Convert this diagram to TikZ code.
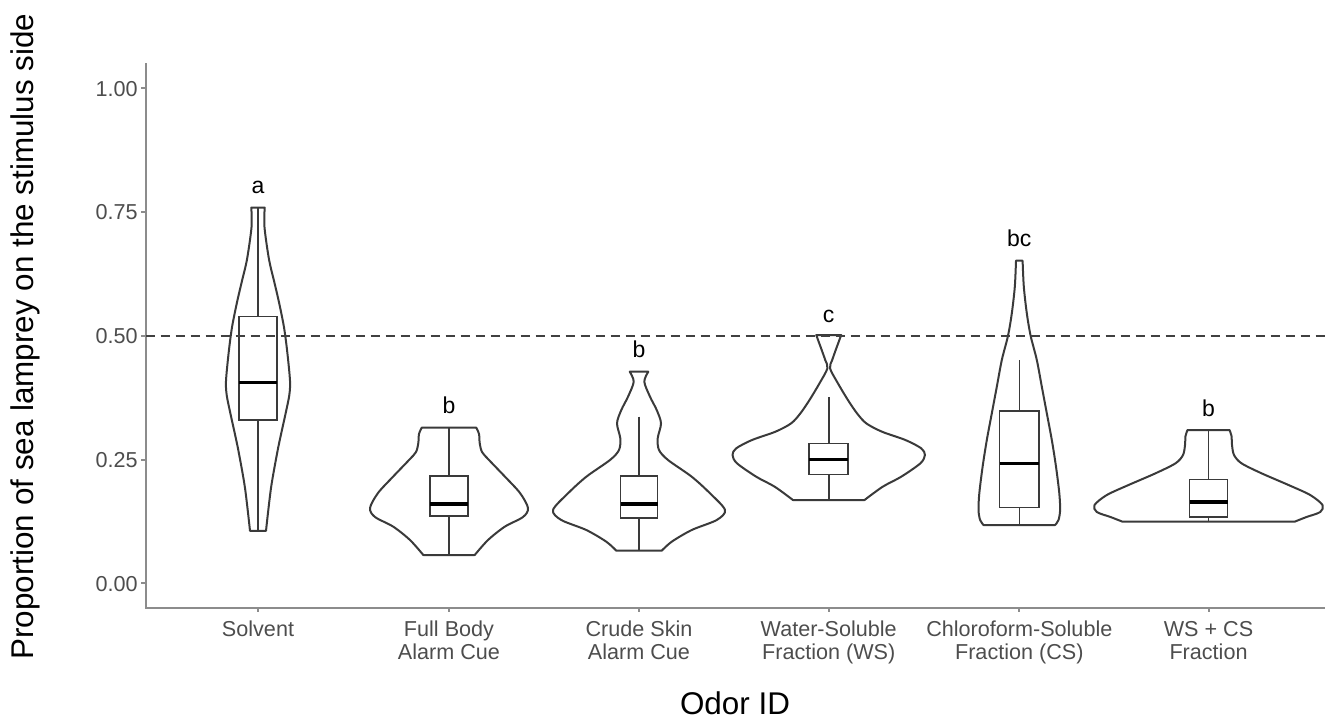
\documentclass[tikz,border=0pt]{standalone}
\usepackage{fontspec}
\setmainfont{Liberation Sans}
\definecolor{vline}{HTML}{3A3A3A}
\definecolor{axcol}{HTML}{8C8C8C}
\definecolor{txtgray}{HTML}{4D4D4D}
\begin{document}
\begin{tikzpicture}[x=0.5pt,y=-0.5pt,
  violin/.style={draw=vline, line width=1pt, line join=round},
  boxst/.style={draw=vline, line width=0.8pt},
  median/.style={draw=black, line width=1.6pt},
  axisline/.style={draw=axcol, line width=1pt},
  refline/.style={draw=black!75, line width=1pt, dash pattern=on 4.5pt off 3pt},
  ticklab/.style={font=\fontsize{10.8}{11.5}\selectfont, text=txtgray, inner sep=0pt},
  grp/.style={font=\fontsize{11.5}{13}\selectfont, inner sep=0pt, anchor=base},
  axtitle/.style={font=\fontsize{15.7}{18}\selectfont, inner sep=0pt, anchor=base}]
\useasboundingbox (0,0) rectangle (1325,723);

% axes
\draw[axisline] (145.5,63) -- (145.5,608) -- (1325,608);
\foreach \yy in {88,211.8,335.7,459.5,583.3} \draw[axisline] (141,\yy) -- (145.5,\yy);
\foreach \xx in {258,449,639,828.7,1019.3,1208.5} \draw[axisline] (\xx,608) -- (\xx,612);

% y tick labels
\node[ticklab, anchor=base east] (t100) at (138,96) {1.00};
\node[ticklab, anchor=base east] (t075) at (138,219.8) {0.75};
\node[ticklab, anchor=base east] (t050) at (138,343.7) {0.50};
\node[ticklab, anchor=base east] (t025) at (138,467.5) {0.25};
\node[ticklab, anchor=base east] (t000) at (138,591.3) {0.00};

% x tick labels
\node[ticklab, anchor=base] (x1) at (258,636) {Solvent};
\node[ticklab, anchor=base] (x2) at (449,636) {\begin{tabular}[t]{@{}c@{}}Full Body\\Alarm Cue\end{tabular}};
\node[ticklab, anchor=base] (x3) at (639,636) {\begin{tabular}[t]{@{}c@{}}Crude Skin\\Alarm Cue\end{tabular}};
\node[ticklab, anchor=base] (x4) at (828.7,636) {\begin{tabular}[t]{@{}c@{}}Water-Soluble\\Fraction (WS)\end{tabular}};
\node[ticklab, anchor=base] (x5) at (1019.3,636) {\begin{tabular}[t]{@{}c@{}}Chloroform-Soluble\\Fraction (CS)\end{tabular}};
\node[ticklab, anchor=base] (x6) at (1208.5,636) {\begin{tabular}[t]{@{}c@{}}WS + CS\\Fraction\end{tabular}};

% axis titles
\node[axtitle, rotate=90] (ytitle) at (33,336.5) {Proportion of sea lamprey on the stimulus side};
\node[axtitle] (xtitle) at (735,714) {Odor ID};

% Solvent
\begin{scope}[shift={(258,0)}]
\draw[violin] (-6.7,207.6) -- (6.7,207.6) -- plot[smooth] coordinates {(6.7,207.6) (6.5,227.3) (11,259.4) (16,280.8) (21,302.3) (26,327.3) (29.3,352.3) (32,380.8) (31.3,395.1) (27.7,413) (23,434.4) (19.3,452.2) (13,488) (8,530.8)}
 -- (-8,530.8) -- plot[smooth] coordinates {(-8,530.8) (-13,488) (-19.3,452.2) (-23,434.4) (-27.7,413) (-31.3,395.1) (-32,380.8) (-29.3,352.3) (-26,327.3) (-21,302.3) (-16,280.8) (-11,259.4) (-6.5,227.3) (-6.7,207.6)} -- cycle;
\draw[boxst] (0,207.6) -- (0,316.5) (0,420.1) -- (0,530.8);
\draw[boxst] (-19,316.5) rectangle (19,420.1);
\draw[median] (-19,382.6) -- (19,382.6);
\node[grp] (la) at (0,193.6) {a};
\end{scope}

% Full Body
\begin{scope}[shift={(449,0)}]
\draw[violin] (-27.3,427.7) -- (27.3,427.7) -- plot[smooth] coordinates {(27.3,427.7) (30,434) (30.7,443) (33,452) (40,460) (56,476.7) (71,493) (79,508) (74,517) (55.7,526.7) (39,540) (25.7,555)}
 -- (-25.7,555) -- plot[smooth] coordinates {(-25.7,555) (-39,540) (-55.7,526.7) (-74,517) (-79,508) (-71,493) (-56,476.7) (-40,460) (-33,452) (-30.7,443) (-30,434) (-27.3,427.7)} -- cycle;
\draw[boxst] (0,427.7) -- (0,475.7) (0,516) -- (0,555);
\draw[boxst] (-19,475.7) rectangle (19,516);
\draw[median] (-19,504) -- (19,504);
\node[grp] (lb1) at (0,413.5) {b};
\end{scope}

% Crude Skin
\begin{scope}[shift={(639,0)}]
\draw[violin] (-9.3,371.7) -- (9.3,371.7) -- plot[smooth] coordinates {(9.3,371.7) (5.3,381.7) (11,396.7) (17.7,410) (22,423.3) (18.7,438.3) (20,450) (29,460) (52.7,476.7) (71,493.3) (86,510) (77.7,520) (52.7,530) (32.7,541.7) (22.7,550.7)}
 -- (-22.7,550.7) -- plot[smooth] coordinates {(-22.7,550.7) (-32.7,541.7) (-52.7,530) (-77.7,520) (-86,510) (-71,493.3) (-52.7,476.7) (-29,460) (-20,450) (-18.7,438.3) (-22,423.3) (-17.7,410) (-11,396.7) (-5.3,381.7) (-9.3,371.7)} -- cycle;
\draw[boxst] (0,416.7) -- (0,476) (0,517.7) -- (0,550.7);
\draw[boxst] (-18.5,476) rectangle (18.5,517.7);
\draw[median] (-18.5,504) -- (18.5,504);
\node[grp] (lb2) at (0,357.7) {b};
\end{scope}

% Water-Soluble
\begin{scope}[shift={(828.7,0)}]
\draw[violin] (-12.5,335) -- (12.5,335) -- plot[smooth] coordinates {(12.5,335) (7,350) (3.5,360) (1.3,368.3) (9.2,383.3) (19.2,400) (28.3,413.3) (37.5,423.3) (53.3,431.7) (76.7,440) (92.5,448.3) (96.2,455) (91.7,463.3) (72.5,476.7) (54,486.7) (35.8,500)}
 -- (-35.8,500) -- plot[smooth] coordinates {(-35.8,500) (-54,486.7) (-72.5,476.7) (-91.7,463.3) (-96.2,455) (-92.5,448.3) (-76.7,440) (-53.3,431.7) (-37.5,423.3) (-28.3,413.3) (-19.2,400) (-9.2,383.3) (-1.3,368.3) (-3.5,360) (-7,350) (-12.5,335)} -- cycle;
\draw[boxst] (0,397.3) -- (0,443.3) (0,474.3) -- (0,500);
\draw[boxst] (-19.5,443.3) rectangle (19.5,474.3);
\draw[median] (-19.5,459.3) -- (19.5,459.3);
\node[grp] (lc) at (0,322) {c};
\end{scope}

% Chloroform-Soluble
\begin{scope}[shift={(1019.3,0)}]
\draw[violin] (-3.3,260.7) -- (3.3,260.7) -- plot[smooth] coordinates {(3.3,260.7) (4.5,286.7) (7.5,313.3) (11.3,335.7) (17.5,360) (22.5,386.7) (27.5,413.3) (32.5,440) (36.7,466.7) (40,493.3) (40.8,510) (39.2,520) (35.8,525)}
 -- (-35.8,525) -- plot[smooth] coordinates {(-35.8,525) (-39.2,520) (-40.8,510) (-40,493.3) (-36.7,466.7) (-32.5,440) (-27.5,413.3) (-22.5,386.7) (-17.5,360) (-11.3,335.7) (-7.5,313.3) (-4.5,286.7) (-3.3,260.7)} -- cycle;
\draw[boxst] (0,360) -- (0,410.7) (0,507.3) -- (0,525);
\draw[boxst] (-19.7,410.7) rectangle (19.7,507.3);
\draw[median] (-19.7,463.3) -- (19.7,463.3);
\node[grp] (lbc) at (0,246.7) {bc};
\end{scope}

% WS + CS
\begin{scope}[shift={(1208.5,0)}]
\draw[violin] (-21,430) -- (21,430) -- plot[smooth] coordinates {(21,430) (23,436) (23.5,445) (25.5,455) (33,463.3) (53,473.3) (80,485) (101.7,495) (114,505) (111.7,512) (98,517) (86,521.7)}
 -- (-86,521.7) -- plot[smooth] coordinates {(-86,521.7) (-98,517) (-111.7,512) (-114,505) (-101.7,495) (-80,485) (-53,473.3) (-33,463.3) (-25.5,455) (-23.5,445) (-23,436) (-21,430)} -- cycle;
\draw[boxst] (0,430) -- (0,479.3) (0,516.7) -- (0,521.7);
\draw[boxst] (-19,479.3) rectangle (19,516.7);
\draw[median] (-19,502) -- (19,502);
\node[grp] (lb3) at (0,416.5) {b};
\end{scope}

% reference line
\draw[refline] (145.5,335.7) -- (1325,335.7);
\end{tikzpicture}
\end{document}
